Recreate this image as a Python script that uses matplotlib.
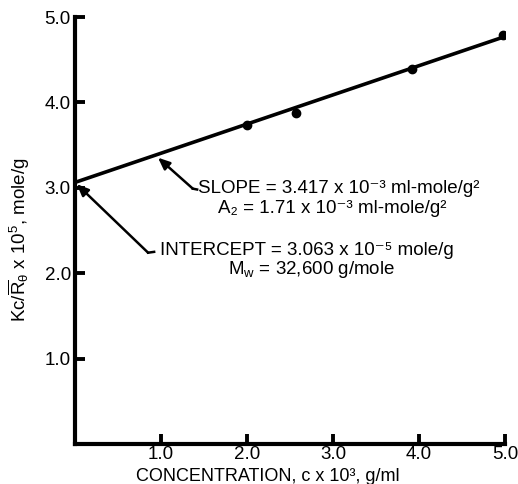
import numpy as np
import matplotlib.pyplot as plt

# ===============================
# Data
# ===============================
conc = [2.0, 2.57, 3.92, 4.98]          # c x 10^3, g/ml
kc_r = [3.73, 3.88, 4.39, 4.79]         # Kc/R x 10^5, mole/g
intercept = 3.063
slope = 0.3417
x_ticks = [1.0, 2.0, 3.0, 4.0, 5.0]
y_ticks = [1.0, 2.0, 3.0, 4.0, 5.0]

plt.rcParams['font.family'] = ['Liberation Sans', 'DejaVu Sans']
plt.rcParams['mathtext.fontset'] = 'custom'
plt.rcParams['mathtext.rm'] = 'Liberation Sans'
plt.rcParams['mathtext.it'] = 'Liberation Sans:italic'
plt.rcParams['mathtext.default'] = 'rm'
fs = 13.5

fig = plt.figure(figsize=(5.18, 4.84), dpi=100)
ax = fig.add_axes([75/518, 40/484, 430/518, 427/484])

# fit line
xf = np.array([0.0, 5.0])
ax.plot(xf, intercept + slope * xf, color='black', lw=2.6, solid_capstyle='round', zorder=3)
ax.plot(conc, kc_r, 'o', color='black', ms=6, zorder=2)

ax.set_xlim(0, 5.0)
ax.set_ylim(0, 5.0)
ax.set_xticks(x_ticks)
ax.set_yticks(y_ticks)
ax.set_xticklabels([f"{t:.1f}" for t in x_ticks], fontsize=fs)
ax.set_yticklabels([f"{t:.1f}" for t in y_ticks], fontsize=fs)
ax.tick_params(direction='in', length=7, width=2.8, pad=3)
ax.tick_params(axis='x', pad=1.5)

for s in ['top', 'right']:
    ax.spines[s].set_visible(False)
for s in ['left', 'bottom']:
    ax.spines[s].set_linewidth(3)

ax.set_xlabel('CONCENTRATION, c x 10³, g/ml', fontsize=13, va='baseline')
ax.xaxis.set_label_coords(0.449, -0.087)
ax.set_ylabel(r'Kc/$\overline{\mathrm{R}}_{\theta}$ x 10$^5$, mole/g', fontsize=fs)
ax.yaxis.set_label_coords(-0.10, 0.479)

# slope annotation
xs = 0.965
ax.annotate('', xy=(xs, intercept + slope * xs - 0.04), xytext=(1.37, 2.99),
            arrowprops=dict(arrowstyle='-|>,head_length=0.7,head_width=0.3',
                            color='black', lw=1.8, shrinkA=0, shrinkB=0))
ax.plot([1.37, 1.42], [2.99, 2.98], color='black', lw=1.8)
ax.text(1.43, 2.99, 'SLOPE = 3.417 x 10⁻³ ml-mole/g²', fontsize=fs, va='center', ha='left')
ax.text(1.66, 2.76, 'A₂ = 1.71 x 10⁻³ ml-mole/g²', fontsize=fs, va='center', ha='left')

# intercept annotation
ax.annotate('', xy=(0.02, intercept - 0.02), xytext=(0.85, 2.24),
            arrowprops=dict(arrowstyle='-|>,head_length=0.7,head_width=0.3',
                            color='black', lw=1.8, shrinkA=0, shrinkB=0))
ax.plot([0.85, 0.92], [2.24, 2.25], color='black', lw=1.8)
ax.text(0.99, 2.27, 'INTERCEPT = 3.063 x 10⁻⁵ mole/g', fontsize=fs, va='center', ha='left')
ax.text(1.78, 2.04, r'M$_\mathrm{w}$ = 32,600 g/mole', fontsize=fs, va='center', ha='left')

fig.savefig('out.png', dpi=100)
